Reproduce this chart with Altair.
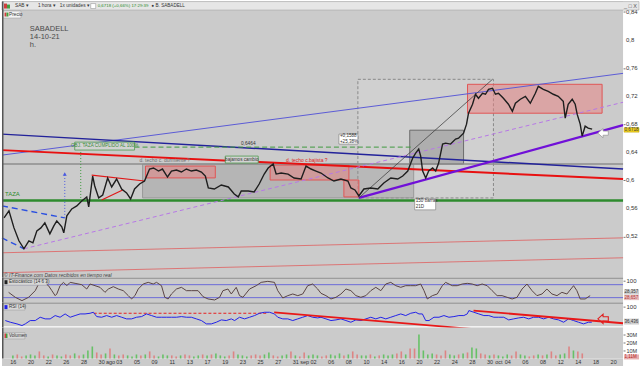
import altair as alt
import pandas as pd

FONT = "Liberation Sans"

# ---------------------------------------------------------------- data ----
# x = trading-day index (0 = 16 jul 2021), price in EUR (hourly chart read by eye)
price_day = [-0.44, 0.11, 0.67, 1.22, 1.78, 2.33, 2.78, 3.22, 3.67, 4.11,
             4.67, 5.11, 5.44, 6.0, 6.22, 6.56, 7.11, 7.67, 8.22, 8.78,
             9.0, 9.44, 9.67, 10.11, 10.56, 11.11, 11.56, 12.11, 12.67, 13.22,
             13.67, 14.11, 14.67, 15.22, 15.78, 16.22, 16.78, 17.22, 17.78, 18.22,
             18.78, 19.33, 19.89, 20.44, 21.0, 21.56, 22.0, 22.33, 23.0, 23.78,
             24.56, 25.22, 25.67, 26.0, 26.78, 27.44, 28.0, 28.56, 29.0, 29.56,
             29.89, 30.44, 31.22, 31.89, 32.67, 33.22, 33.78, 34.33, 34.89, 35.67,
             36.33, 37.11, 37.89, 38.22, 38.67, 39.11, 39.67, 40.44, 41.22, 41.89,
             42.67, 43.44, 44.0, 44.56, 45.11, 45.44, 45.78, 46.0, 46.22, 46.56,
             46.89, 47.33, 47.67, 48.0, 48.44, 48.78, 49.33, 49.89, 50.22, 50.78,
             51.11, 51.33, 51.78, 52.11, 52.44, 52.89, 53.22, 53.56, 54.0, 54.33,
             54.67, 55.22, 55.78, 56.22, 56.56, 57.11, 57.67, 58.22, 58.78, 59.11,
             59.67, 60.22, 60.78, 61.33, 61.89, 62.11, 62.44, 62.89, 63.22, 63.44,
             63.78, 64.0, 64.33, 64.67, 65.11]
price_eur = [0.5464, 0.5564, 0.5322, 0.5138, 0.5024, 0.5138, 0.5109, 0.5280, 0.5322, 0.5393,
             0.5237, 0.5351, 0.5422, 0.5337, 0.5251, 0.5493, 0.5592, 0.5635, 0.5706, 0.5763,
             0.5621, 0.6061, 0.5919, 0.5749, 0.5791, 0.6033, 0.5905, 0.6018, 0.5876, 0.5820,
             0.5734, 0.5876, 0.5947, 0.5990, 0.6161, 0.6175, 0.6132, 0.6161, 0.6047, 0.6132,
             0.6146, 0.6118, 0.6161, 0.6132, 0.6146, 0.6118, 0.6061, 0.5891, 0.5876, 0.5933,
             0.5905, 0.5805, 0.5763, 0.5848, 0.5848, 0.5834, 0.5947, 0.6089, 0.6175, 0.6232,
             0.6089, 0.6104, 0.6089, 0.6033, 0.6018, 0.6203, 0.6161, 0.6132, 0.6104, 0.6033,
             0.5990, 0.6018, 0.5990, 0.5891, 0.5862, 0.5777, 0.5876, 0.5891, 0.5876, 0.5962,
             0.6033, 0.6018, 0.6061, 0.6132, 0.6317, 0.6388, 0.6445, 0.6345, 0.6132, 0.6033,
             0.6132, 0.6175, 0.6132, 0.6246, 0.6516, 0.6530, 0.6516, 0.6587, 0.6601, 0.6672,
             0.6800, 0.6956, 0.7084, 0.7226, 0.7169, 0.7240, 0.7226, 0.7297, 0.7311, 0.7226,
             0.7240, 0.7169, 0.7084, 0.6984, 0.7098, 0.7155, 0.7197, 0.7098, 0.7240, 0.7339,
             0.7297, 0.7268, 0.7226, 0.7197, 0.7126, 0.6885, 0.7084, 0.7155, 0.7084, 0.6942,
             0.6800, 0.6629, 0.6771, 0.6743, 0.6729]
assert len(price_day) == len(price_eur)

stoch_day = [0.07, 0.81, 1.56, 2.3, 3.04, 3.41, 3.96, 4.52, 4.89, 5.26,
             5.44, 5.81, 6.19, 6.56, 6.93, 7.48, 8.22, 8.78, 9.15, 9.7,
             10.26, 10.81, 11.19, 11.74, 12.3, 12.85, 13.41, 13.78, 14.15, 14.52,
             15.07, 15.63, 16.19, 16.56, 17.11, 17.48, 17.85, 18.22, 18.78, 19.33,
             19.89, 20.44, 21.19, 21.74, 22.3, 23.04, 23.59, 23.96, 24.52, 24.89,
             25.44, 25.81, 26.19, 26.93, 27.67, 28.22, 28.96, 29.7, 30.07, 30.63,
             31.19, 31.74, 32.3, 32.85, 33.41, 33.96, 34.52, 34.89,
             35.44, 36.0, 36.56, 37.11, 37.67, 38.22, 38.78, 39.33, 39.89, 40.44,
             41.0, 41.56, 42.11, 42.67, 43.22, 43.78, 44.33, 44.89, 45.44, 46.0,
             46.37, 46.74, 47.3, 47.85, 48.41, 48.78, 49.52, 50.07, 50.63, 51.19,
             51.74, 52.3, 52.85, 53.41, 53.96, 54.52, 55.07, 55.63, 56.19, 56.74,
             57.3, 57.85, 58.41, 58.96, 59.52, 60.07, 60.63, 61.19, 61.74, 62.3,
             63.04, 63.41, 63.78, 64.33, 64.89]
stoch_val = [44.6, 21.6, 6.2, 21.6, 52.3, 83.1, 90.8, 75.4, 52.3, 29.2,
             36.9, 75.4, 90.8, 75.4, 90.8, 86.2, 80, 60, 83.1, 75.4,
             67.7, 44.6, 60, 70.8, 60, 52.3, 29.2, 13.9, 29.2, 60,
             83.1, 90.8, 83.1, 90.8, 75.4, 21.6, 13.9, 36.9, 60, 67.7,
             52.3, 52.3, 52.3, 24.6, 13.9, 9.3, 21.6, 52.3, 60, 36.9,
             67.7, 29.2, 21.6, 60, 75.4, 90.8, 95.4, 90.8, 52.3, 18.5,
             29.2, 36.9, 29.2, 36.9, 75.4, 83.1, 60, 40,
             29.2, 13.9, 21.6, 36.9, 60, 52.3, 29.2, 21.6, 29.2, 52.3,
             67.7, 52.3, 83.1, 90.8, 75.4, 67.7, 75.4, 75.4, 75.4, 83.1,
             52.3, 13.9, 29.2, 36.9, 75.4, 90.8, 75.4, 75.4, 83.1, 86.2,
             83.1, 75.4, 83.1, 75.4, 52.3, 29.2, 29.2, 21.6, 13.9, 21.6,
             60, 83.1, 52.3, 29.2, 36.9, 60, 36.9, 29.2, 44.6, 36.9,
             75.4, 52.3, 13.9, 13.9, 29.2]
assert len(stoch_day) == len(stoch_val)

rsi_day = [-0.30, 0.26, 1.0, 1.56, 1.93, 2.48, 3.04, 3.59, 4.15, 4.7,
           5.26, 5.81, 6.37, 6.93, 7.48, 8.04, 8.59, 9.15, 9.52, 9.89,
           10.44, 11.0, 11.56, 12.11, 12.67, 13.22, 13.78, 14.33, 14.89, 15.44,
           16.0, 16.56, 17.11, 17.67, 18.22, 18.78, 19.33, 19.89, 20.44, 21.0,
           21.56, 22.11, 22.67, 23.22, 23.78, 24.33, 24.89, 25.26, 25.81, 26.37,
           26.93, 27.48, 28.04, 28.59, 29.15, 29.7, 30.07, 30.63, 31.19, 31.74,
           32.3, 32.85, 33.41, 33.96, 34.52, 34.89,
           35.44, 36.0, 36.56, 37.11, 37.67, 38.22, 38.78, 39.33, 39.89, 40.44,
           41.0, 41.56, 42.11, 42.67, 43.22, 43.78, 44.33, 44.89, 45.44, 45.81,
           46.19, 46.56, 46.93, 47.48, 48.04, 48.59, 49.15, 49.70, 50.26, 50.81,
           51.19, 51.37, 51.93, 52.48, 53.04, 53.59, 54.15, 54.70, 55.26, 55.81,
           56.37, 56.93, 57.48, 58.04, 58.59, 59.15, 59.70, 60.26, 60.81, 61.37,
           61.93, 62.48, 63.04, 63.59, 64.15, 64.70, 65.07]
rsi_val = [40.7, 33.6, 26.6, 19.5, 26.6, 40.7, 40.7, 54.8, 47.8, 47.8,
           61.9, 54.8, 68.9, 54.8, 61.9, 68.9, 68.9, 71.7, 76.0, 57.6,
           54.8, 61.9, 54.8, 61.9, 54.8, 47.8, 47.8, 54.8, 57.6, 68.9,
           61.9, 54.8, 54.8, 54.8, 54.8, 54.8, 57.6, 54.8, 54.8, 47.8,
           40.7, 26.6, 26.6, 33.6, 43.5, 40.7, 47.8, 40.7, 54.8, 47.8,
           54.8, 61.9, 71.7, 76.0, 76.0, 68.9, 54.8, 47.8, 47.8, 40.7,
           47.8, 54.8, 61.9, 54.8, 52.0, 54.8,
           47.8, 40.7, 43.5, 47.8, 40.7, 33.6, 43.5, 40.7, 47.8, 54.8,
           47.8, 54.8, 47.8, 54.8, 61.9, 68.9, 61.9, 71.7, 76.0, 68.9,
           68.9, 40.7, 40.7, 54.8, 54.8, 61.9, 54.8, 57.6, 61.9, 61.9,
           68.9, 83.1, 76.0, 68.9, 61.9, 61.9, 54.8, 54.8, 54.8, 43.5,
           47.8, 52.0, 54.8, 47.8, 54.8, 54.8, 47.8, 54.8, 47.8, 43.5,
           33.6, 47.8, 40.7, 33.6, 26.6, 33.6, 33.6]
assert len(rsi_day) == len(rsi_val)

# volume (millions of shares), two readings per trading day
vol_m = [3.8, 5.0, 2.5, 3.8, 5.0, 3.8, 8.8, 3.8, 2.5, 5.0,
         3.8, 2.5, 5.0, 3.8, 6.3, 3.8, 5.0, 10.0, 15.0, 7.5,
         5.0, 6.3, 12.5, 5.0, 3.8, 5.0, 3.8, 2.5, 5.0, 3.8,
         5.0, 8.8, 3.8, 2.5, 5.0, 3.8, 3.8, 2.5, 3.8, 5.0,
         3.8, 2.5, 3.8, 5.0, 3.8, 5.0, 6.3, 3.8, 2.5, 3.8,
         8.8, 5.0, 3.8, 2.5, 3.8, 5.0, 3.8, 5.0, 7.5, 3.8,
         2.5, 3.8, 5.0, 8.8, 3.8, 2.5, 7.5, 3.8, 5.0, 3.8,
         2.5, 3.8, 5.0, 3.8, 6.3, 3.8, 5.0, 8.8, 5.0, 3.8,
         3.8, 5.0, 2.5, 3.8, 5.0, 3.8, 5.0, 6.3, 8.8, 5.0,
         12.5, 12.5, 30.0, 10.0, 5.0, 6.3, 5.0, 3.8, 10.0, 5.0,
         3.8, 5.0, 6.3, 7.5, 13.8, 12.5, 6.3, 5.0, 3.8, 5.0,
         3.8, 2.5, 5.0, 3.8, 8.8, 5.0, 3.8, 2.5, 3.8, 5.0,
         3.8, 5.0, 8.8, 3.8, 5.0, 6.3, 15.0, 10.0, 8.8, 6.3]
vol_dir = list("grrgggrrgr" "ggrrgrgggr" "rgrgrrgggr" "grrgggrrgr" "rggrgrgggr"
               "rgggrrrggr" "rggrgrrggg" "rrgggrgrrg" "grgrgggrrg" "rrggggrrrg"
               "grgrggrrgr" "gggrrggrrg" "rgrrggrgrr")
vol_day = [i * 0.5 for i in range(len(vol_m))]

x_tick_labels = ["16", "", "20", "", "22", "", "26", "", "28", "", "30", "ago", "03", "",
                 "05", "", "09", "", "11", "", "13", "", "17", "", "19", "", "23", "",
                 "25", "", "27", "", "31", "sep", "02", "", "06", "", "08", "", "10", "",
                 "14", "", "16", "", "20", "", "22", "", "24", "", "28", "", "30", "oct",
                 "04", "", "06", "", "08", "", "12", "", "14", "", "18", "", "20"]
price_ticks = [0.52, 0.56, 0.6, 0.64, 0.68, 0.72, 0.76, 0.8, 0.84]
price_tick_labels = ["0,52", "0,56", "0,6", "0,64", "0,68", "0,72", "0,76", "0,8", "0,84"]
last_price = 0.6718

# ------------------------------------------------------------- scales ----
W = 623
XS = alt.Scale(domain=[-0.6667, 68.5556], nice=False, zero=False)
YP = alt.Scale(domain=[0.4612, 0.8547], nice=False, zero=False)
YST = alt.Scale(domain=[-3.08, 112.3], nice=False, zero=False)
YR = alt.Scale(domain=[11.0, 116.9], nice=False, zero=False)
YV = alt.Scale(domain=[0, 38.75], nice=False, zero=False)
ONE = pd.DataFrame({"k": [0]})
ARROW_LEFT = "M -1 0 L 0 -0.9 L 0 -0.4 L 1 -0.4 L 1 0.4 L 0 0.4 L 0 0.9 Z"


def rules(rows, color, width=1.0, dash=None, opacity=1.0, ys=YP):
    df = pd.DataFrame(rows, columns=["x1", "y1", "x2", "y2"])
    kw = dict(color=color, strokeWidth=width, opacity=opacity)
    if dash:
        kw["strokeDash"] = dash
    return alt.Chart(df).mark_rule(**kw).encode(
        x=alt.X("x1:Q", scale=XS, axis=None), x2="x2:Q",
        y=alt.Y("y1:Q", scale=ys), y2="y2:Q")


def boxes(rows, fill, stroke, fop=1.0, width=1.0, dash=None, ys=YP):
    df = pd.DataFrame(rows, columns=["x1", "y1", "x2", "y2"])
    kw = dict(fill=fill, stroke=stroke, strokeWidth=width, fillOpacity=fop)
    if dash:
        kw["strokeDash"] = dash
    return alt.Chart(df).mark_rect(**kw).encode(
        x=alt.X("x1:Q", scale=XS, axis=None), x2="x2:Q",
        y=alt.Y("y1:Q", scale=ys), y2="y2:Q")


def texts(rows, color, size, align="left", weight="normal", style="normal", ys=YP):
    df = pd.DataFrame(rows, columns=["x", "y", "t"])
    return alt.Chart(df).mark_text(color=color, fontSize=size, align=align, baseline="middle",
                                   font=FONT, fontWeight=weight, fontStyle=style).encode(
        x=alt.X("x:Q", scale=XS, axis=None), y=alt.Y("y:Q", scale=ys), text="t:N")


def points(x, y, ys=YP, **kw):
    return alt.Chart(pd.DataFrame({"x": [x], "y": [y]})).mark_point(opacity=1, **kw).encode(
        x=alt.X("x:Q", scale=XS, axis=None), y=alt.Y("y:Q", scale=ys))


def ptext(x, y, t, color="#333", size=5.5, align="left", weight="normal"):
    return alt.Chart(pd.DataFrame({"t": [t]})).mark_text(
        color=color, fontSize=size, align=align, baseline="middle", font=FONT, fontWeight=weight
    ).encode(x=alt.value(x), y=alt.value(y), text="t:N")


def prect(x1, y1, x2, y2, fill, stroke=None, sw=1.0):
    kw = dict(fill=fill, strokeWidth=sw)
    if stroke:
        kw["stroke"] = stroke
    return alt.Chart(ONE).mark_rect(**kw).encode(
        x=alt.value(x1), x2=alt.value(x2), y=alt.value(y1), y2=alt.value(y2))


def hline_px(y, color, width=1.0, x1=0, x2=W):
    return alt.Chart(ONE).mark_rule(color=color, strokeWidth=width).encode(
        x=alt.value(x1), x2=alt.value(x2), y=alt.value(y))


def left_border(h):
    return alt.Chart(ONE).mark_rule(color="#555", strokeWidth=1.5).encode(
        x=alt.value(0.75), y=alt.value(0), y2=alt.value(h))


def right_axis(values, expr=None, size=6, labels=True):
    kw = dict(orient="right", values=values, title=None, grid=False, domain=False,
              labelFontSize=size, labelFont=FONT, labelColor="#333", tickSize=2,
              tickColor="#777", labelPadding=1, labelOverlap=False, labelFlush=False,
              labels=labels)
    if expr:
        kw["labelExpr"] = expr
    return alt.Axis(**kw)


# ------------------------------------------------------------ price panel ----
price_df = pd.DataFrame({"d": price_day, "p": price_eur})
price_line = alt.Chart(price_df).mark_line(color="#1e1e1e", strokeWidth=1.4).encode(
    x=alt.X("d:Q", scale=XS, axis=None),
    y=alt.Y("p:Q", scale=YP, axis=right_axis(price_ticks, labels=False)))
tick_df = pd.DataFrame({"v": price_ticks, "t": price_tick_labels})
price_tick_text = alt.Chart(tick_df).mark_text(
    fontSize=6, font=FONT, color="#333", align="left", baseline="middle").encode(
    x=alt.value(626), y=alt.Y("v:Q", scale=YP), text="t:N")

layers = [
    price_line.mark_line(opacity=0),  # carries the axis first
    # study boxes
    boxes([(39.0, 0.7439, 54.11, 0.5749)], "#ffffff", "#8a8a8a", fop=0.1, dash=[3, 2]),
    boxes([(15.0, 0.6232, 45.22, 0.5749)], "#8c8c8c", "#9a9a9a", fop=0.35),
    boxes([(44.78, 0.6714, 50.78, 0.6232)], "#7a7a7a", "#6a6a6a", fop=0.4),
    boxes([(15.33, 0.6203, 23.11, 0.6034), (29.22, 0.6217, 38.0, 0.6004),
           (37.44, 0.6004, 39.11, 0.5763), (51.22, 0.7368, 66.22, 0.6956)],
          "#ea8080", "#e05555", fop=0.5),
    # faded red support lines
    rules([(-0.6667, 0.4967, 68.5556, 0.5180), (-0.6667, 0.4683, 68.5556, 0.4896)],
          "#e06060", 1.0, opacity=0.8),
    # channel lines
    rules([(-0.6667, 0.6359, 68.5556, 0.7524)], "#5b5bd6", 1.0),
    rules([(-0.6667, 0.6232, 68.5556, 0.6232)], "#8e8e8e", 1.6),
    rules([(-0.6667, 0.6658, 68.5556, 0.6160)], "#22229a", 1.5),
    rules([(-0.6667, 0.5713, 68.5556, 0.5713)], "#2e8b2e", 2.6),
    rules([(-0.6667, 0.6430, 68.5556, 0.6018)], "#e81010", 2.0),
    rules([(1.78, 0.5024, 68.5556, 0.7112)], "#b777e6", 1.0, dash=[4, 3]),
    rules([(39.11, 0.5749, 68.5556, 0.6786)], "#7010d8", 2.2),
    rules([(14.11, 0.6473, 45.11, 0.6473)], "#3e9a3e", 1.0, dash=[5, 3]),
    rules([(-0.6667, 0.5635, 6.33, 0.5465), (-0.6667, 0.5180, 1.78, 0.5024)],
          "#2a4fe0", 1.4, dash=[6, 4]),
    rules([(6.33, 0.5465, 6.33, 0.6090)], "#4a5ae0", 1.0, dash=[1, 2]),
    rules([(8.11, 0.5706, 8.11, 0.6459)], "#3e9a3e", 1.0, dash=[1, 2]),
    rules([(9.33, 0.6075, 15.22, 0.5990), (10.44, 0.5720, 12.78, 0.5862)], "#e01818", 1.2),
    rules([(39.11, 0.5749, 54.0, 0.7439)], "#444444", 0.8),
    price_line,
    # arrow heads
    points(6.33, 0.6090, shape="triangle-up", size=16, filled=True, color="#4a5ae0"),
    points(8.11, 0.6459, shape="triangle-up", size=16, filled=True, color="#3e9a3e"),
    points(66.33, 0.6672, shape=ARROW_LEFT, size=110, filled=True, fill="#ffffff",
           stroke="#9a9a9a", strokeWidth=0.8),
    # labelled boxes
    boxes([(7.44, 0.6544, 14.11, 0.6431), (24.22, 0.6345, 27.89, 0.6246)],
          "#d2d2d2", "#4d9a4d", fop=1.0, width=0.8),
    boxes([(36.89, 0.6658, 39.0, 0.6516), (45.33, 0.5735, 47.67, 0.5579)],
          "#ffffff", "#777777", fop=1.0, width=0.6),
    texts([(10.78, 0.6487, "OBJ. TAZA CUMPLIDO AL 100%")], "#3a8a3a", 4.6, align="center"),
    texts([(26.06, 0.6295, "bajamos cambio")], "#333333", 4.6, align="center"),
    texts([(14.67, 0.6288, "d. techo  c. durmiente ?")], "#6e6e6e", 5.0),
    texts([(31.0, 0.6288, "d. techo c.bajista ?")], "#e02020", 5.0),
    texts([(26.78, 0.6516, "0,6464")], "#333333", 4.8, align="center"),
    texts([(37.0, 0.6630, "+0,1588"), (37.0, 0.6545, "+25,38%")], "#333333", 4.6),
    texts([(45.45, 0.5700, "150 barras"), (45.45, 0.5615, "21D")], "#333333", 4.6),
    texts([(-0.33, 0.5805, "TAZA")], "#2e8b2e", 6.0),
    texts([(2.44, 0.8149, "SABADELL"), (2.44, 0.8036, "14-10-21"), (2.44, 0.7922, "h.")],
          "#4a4a4a", 7.5),
    texts([(-0.44, 0.4655, "© IT-Finance.com   Datos recibidos en tiempo real")],
          "#444444", 5.0, style="italic"),
    price_tick_text,
    # last price tag on the axis
    alt.Chart(pd.DataFrame({"y1": [last_price + 0.0032], "y2": [last_price - 0.0032]})).mark_rect(
        fill="#f0d020", stroke="#c0a000", strokeWidth=0.5).encode(
        x=alt.value(624), x2=alt.value(639), y=alt.Y("y1:Q", scale=YP), y2="y2:Q"),
    alt.Chart(pd.DataFrame({"y": [last_price], "t": ["0,6718"]})).mark_text(
        fontSize=4.6, font=FONT, color="#333", align="left", baseline="middle").encode(
        x=alt.value(624.5), y=alt.Y("y:Q", scale=YP), text="t:N"),
    # toolbar and tab
    prect(0, 0, 639, 8.5, "#e6e6e6", "#a8a8a8", 0.6),
    prect(2, 2, 5, 7, "#d04040"), prect(5, 3, 8, 7, "#40a040"),
    ptext(13, 4.5, "SAB ▾", size=4.8), ptext(36, 4.5, "1 hora ▾", size=4.8),
    ptext(58, 4.5, "1x unidades ▾", size=4.8),
    prect(89, 2, 94, 7, "#ffffff", "#888888", 0.5),
    ptext(96, 4.5, "0,6718 (+0,66%) 17:29:39", color="#2a8a2a", size=4.4),
    ptext(150, 4.5, "● B. SABADELL", size=4.6),
    ptext(637, 4.5, "_ □ X", color="#555", size=5.5, align="right"),
    prect(1, 9.5, 19, 16.5, "#f4f4f4", "#9a9a9a", 0.5),
    prect(2.5, 11, 4.5, 15, "#d04040"), prect(4.5, 11, 6.5, 15, "#40a040"),
    ptext(7, 13, "Precio", size=4.8),
    left_border(277),
]
price_panel = alt.layer(*layers).properties(width=W, height=277)

# ------------------------------------------------------- stochastic panel ----
stoch_df = pd.DataFrame({"d": stoch_day, "v": stoch_val})
stoch_line = alt.Chart(stoch_df).mark_line(color="#5a4444", strokeWidth=1.0).encode(
    x=alt.X("d:Q", scale=XS, axis=None), y=alt.Y("v:Q", scale=YST, axis=right_axis([100])))
stoch_panel = alt.layer(
    stoch_line.mark_line(opacity=0),
    rules([(-0.6667, 80, 68.5556, 80), (-0.6667, 20, 68.5556, 20)], "#6a6ad8", 1.0, ys=YST),
    hline_px(0.5, "#8a8a8a", 1.0),
    stoch_line,
    prect(1, 1.5, 45, 7.5, "#d8d8d8", "#999999", 0.5),
    prect(2.5, 2.5, 5.5, 6.5, "#222222"),
    ptext(7, 4.5, "Estocástico (14 6 3)", size=4.6),
    prect(624, 12, 639, 17, "#d0d0d0"),
    ptext(624.5, 14.5, "28,357", size=4.5),
    prect(624, 17.5, 639, 22.5, "#e8c0c0"),
    ptext(624.5, 20, "28,657", color="#b03030", size=4.5),
    left_border(25),
).properties(width=W, height=25)

# --------------------------------------------------------------- RSI panel ----
rsi_df = pd.DataFrame({"d": rsi_day, "v": rsi_val})
rsi_line = alt.Chart(rsi_df).mark_line(color="#2222e8", strokeWidth=1.0).encode(
    x=alt.X("d:Q", scale=XS, axis=None), y=alt.Y("v:Q", scale=YR, axis=right_axis([100])))
rsi_panel = alt.layer(
    rsi_line.mark_line(opacity=0),
    hline_px(0.5, "#8a8a8a", 1.0),
    hline_px(24.5, "#ffffff", 1.5),
    rules([(9.56, 71.7, 29.0, 71.7)], "#e82020", 1.2, dash=[3, 2], ys=YR),
    rsi_line,
    rules([(29.67, 75.8, 56.0, -8.9), (51.89, 83.1, 68.5556, 29.2)], "#e81818", 1.8, ys=YR),
    points(66.33, 48.0, ys=YR, shape=ARROW_LEFT, size=110, filled=False, stroke="#e02020",
           strokeWidth=1.1),
    prect(1, 1.5, 23, 7.5, "#d8d8d8", "#999999", 0.5),
    prect(2.5, 2.5, 5.5, 6.5, "#2222e8"),
    ptext(7, 4.5, "RSI (14)", size=4.6),
    prect(624, 16, 639, 22, "#d0d0d0"),
    ptext(624.5, 19, "36,436", size=4.5),
    left_border(25),
).properties(width=W, height=25)

# ------------------------------------------------------------ volume panel ----
vol_df = pd.DataFrame({"d": vol_day, "v": vol_m, "c": vol_dir})
x_expr = "[" + ",".join("'%s'" % s for s in x_tick_labels) + "][datum.value]"
vol_panel = alt.layer(
    prect(0, 31, W, 39, "#cbcbcb"),
    alt.Chart(vol_df).mark_bar(size=1.6, opacity=0.85).encode(
        x=alt.X("d:Q", scale=XS, axis=alt.Axis(
            orient="bottom", values=list(range(len(x_tick_labels))), labelExpr=x_expr,
            title=None, grid=False, domain=False, ticks=False, labelFontSize=5.5,
            labelFont=FONT, labelColor="#333", labelPadding=1, labelOverlap=False,
            labelFlush=False, zindex=1)),
        y=alt.Y("v:Q", scale=YV, axis=right_axis([10, 20, 30], "datum.value + 'M'", 5.5)),
        color=alt.Color("c:N", scale=alt.Scale(domain=["g", "r"], range=["#55c055", "#e07878"]),
                        legend=None)),
    prect(1, 5, 23, 11.5, "#d8d8d8", "#999999", 0.5),
    prect(2.5, 6, 4, 10.5, "#d04040"), prect(4, 6, 5.5, 10.5, "#40a040"),
    ptext(7, 8.5, "Volumen", size=4.6),
    prect(624, 27, 639, 32, "#e8b0b0"),
    ptext(624.5, 29.5, "1,11M", color="#b02020", size=4.5),
    left_border(31),
).properties(width=W, height=31)

chart = alt.vconcat(price_panel, stoch_panel, rsi_panel, vol_panel, spacing=0,
                    bounds="flush").properties(
    padding={"left": 0, "top": 0, "right": 0, "bottom": 0}, background="#ffffff"
).configure_view(stroke=None, fill="#cbcbcb")

chart.save("out.html", embed_options={"renderer": "svg", "actions": False})
